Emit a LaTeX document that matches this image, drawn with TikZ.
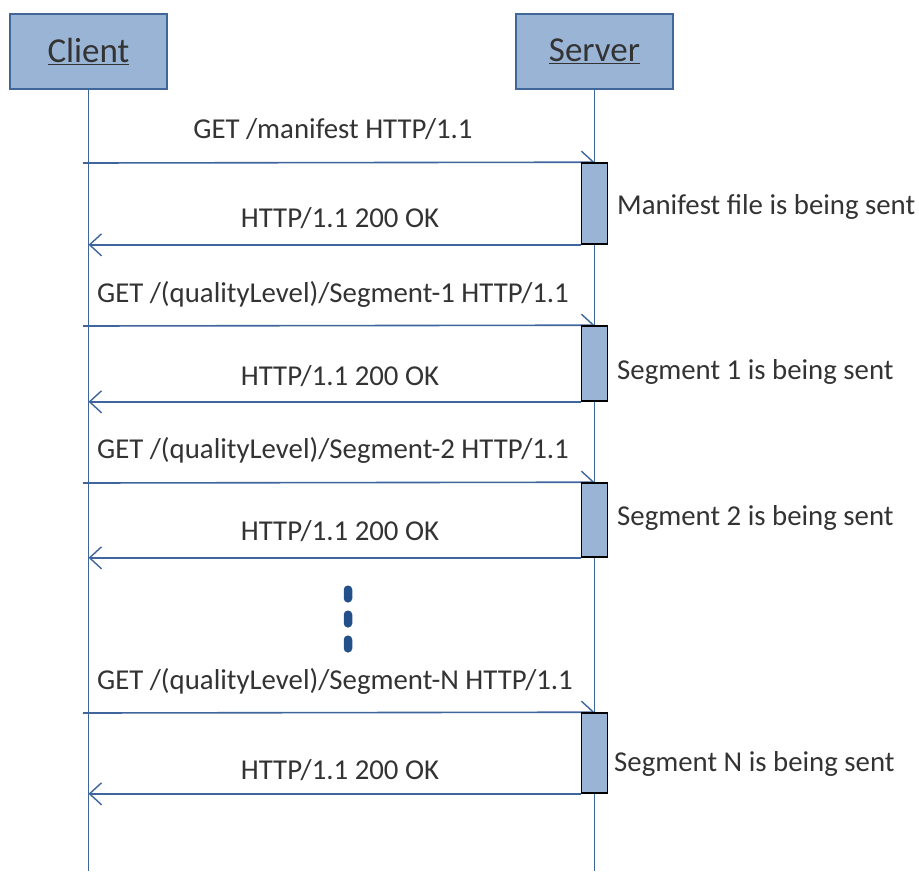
\documentclass[tikz,border=0pt]{standalone}
\usepackage{fontspec}
\setmainfont{Carlito}
\usetikzlibrary{arrows.meta}
\definecolor{lineblue}{HTML}{3F669C}
\definecolor{boxfill}{HTML}{9AB4D5}
\definecolor{boxedge}{HTML}{41679A}
\definecolor{dotblue}{HTML}{24508A}
\definecolor{txt}{HTML}{333333}
\tikzset{
  hdr/.style={draw=boxedge, fill=boxfill, line width=1.6pt, minimum width=157pt, minimum height=75pt, inner sep=0pt, font=\fontsize{35}{38}\selectfont, text=txt},
  life/.style={draw=lineblue, line width=1.6pt},
  msg/.style={draw=lineblue, line width=1.6pt, -{Straight Barb[length=12pt,width=22pt,line width=1.4pt]}},
  act/.style={draw=black, fill=boxfill, line width=1.6pt, minimum width=26pt, inner sep=0pt},
  lbl/.style={text=txt, font=\fontsize{28.8}{32}\selectfont, inner sep=0pt},
  note/.style={lbl, anchor=west},
  vdot/.style={rectangle, rounded corners=4pt, fill=dotblue, minimum width=8.5pt, minimum height=17pt, inner sep=0pt},
}
\begin{document}
\begin{tikzpicture}[x=1pt,y=-1pt]
\useasboundingbox (0,0) rectangle (919,871);

% participants
\node[hdr] (client) at (88.5,51.5) {\underline{Client}};
\node[hdr] (server) at (594.5,51.5) {\underline{Server}};

% lifelines
\coordinate (cend) at (88.5,871);
\coordinate (send) at (594.5,871);
\draw[life] (client.south) -- (cend);
\draw[life] (server.south) -- (send);

% activation bars
\node[act, minimum height=81pt] (a1) at (594.5,203.5) {};
\node[act, minimum height=75pt] (a2) at (594.5,363.5) {};
\node[act, minimum height=74pt] (a3) at (594.5,520) {};
\node[act, minimum height=80pt] (a4) at (594.5,753) {};

% start points of the requests (slightly left of the client lifeline)
\coordinate (q1) at (83,163);
\coordinate (q2) at (83,326);
\coordinate (q3) at (83,483);
\coordinate (q4) at (83,713);

% requests and responses
\draw[msg] (q1) -- (a1.north);
\draw[msg] (a1.south west) -- (a1.south west -| client);
\draw[msg] (q2) -- (a2.north);
\draw[msg] (a2.south west) -- (a2.south west -| client);
\draw[msg] (q3) -- (a3.north);
\draw[msg] (a3.south west) -- (a3.south west -| client);
\draw[msg] (q4) -- (a4.north);
\draw[msg] (a4.south west) -- (a4.south west -| client);

% bars drawn again on top of the arrow tips
\node[act, minimum height=81pt] at (a1) {};
\node[act, minimum height=75pt] at (a2) {};
\node[act, minimum height=74pt] at (a3) {};
\node[act, minimum height=80pt] at (a4) {};

% message labels
\node[lbl] (m1) at (333,129) {GET /manifest HTTP/1.1};
\node[lbl] (r1) at (340,218) {HTTP/1.1 200 OK};
\node[lbl] (m2) at (333,294) {GET /(qualityLevel)/Segment-1 HTTP/1.1};
\node[lbl] (r2) at (340,376) {HTTP/1.1 200 OK};
\node[lbl] (m3) at (333,450) {GET /(qualityLevel)/Segment-2 HTTP/1.1};
\node[lbl] (r3) at (340,531) {HTTP/1.1 200 OK};
\node[lbl] (m4) at (335,681) {GET /(qualityLevel)/Segment-N HTTP/1.1};
\node[lbl] (r4) at (340,770) {HTTP/1.1 200 OK};

% notes beside the activation bars
\node[note] (n1) at (617,207) {Manifest file is being sent};
\node[note] (n2) at (617,372) {Segment 1 is being sent};
\node[note] (n3) at (617,518) {Segment 2 is being sent};
\node[note] (n4) at (614,764) {Segment N is being sent};

% ellipsis between segment 2 and segment N
\node[vdot] (d1) at (348,594) {};
\node[vdot] (d2) at (348,619) {};
\node[vdot] (d3) at (348,644) {};
\end{tikzpicture}
\end{document}
